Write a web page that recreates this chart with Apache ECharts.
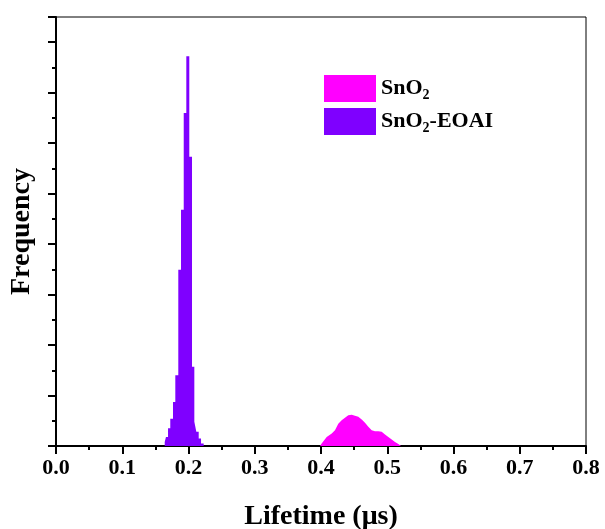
<!DOCTYPE html>
<html>
<head>
<meta charset="utf-8">
<script src="https://cdn.jsdelivr.net/npm/echarts@6/dist/echarts.min.js"></script>
<style>html,body{margin:0;padding:0;background:#fff}#c{width:605px;height:529px}</style>
</head>
<body>
<div id="c"></div>
<script>
// Histogram bin edges (μs) and counts for SnO2-EOAI
const purpleEdges = [0.1641,0.1660,0.1691,0.1725,0.1766,0.1801,0.1846,0.1887,0.1928,0.1967,0.2012,0.2053,0.2088,0.2118,0.2154,0.2189,0.2229];
const purpleCounts = [8,18,35,54,87,140,349,468,660,772,573,157,48,28,15,5];
// SnO2 distribution
const pinkX = [0.3985,0.4010,0.4086,0.4162,0.4211,0.4261,0.4312,0.4362,0.4412,0.4463,0.4513,0.4563,0.4619,0.4664,0.4714,0.4765,0.4815,0.4865,0.4916,0.4966,0.5016,0.5067,0.5117,0.5167,0.5208];
const pinkY = [0,5,18,25,31,44,51,56,61,62,60,58,52,46,38,31,29,29,28,23,18,13,8,4,0];
const xTicks = ['0.0','0.1','0.2','0.3','0.4','0.5','0.6','0.7','0.8'];
const seriesNames = ['SnO2','SnO2-EOAI'];

const purpleData = purpleCounts.map((c,i)=>[purpleEdges[i],c]);
purpleData.push([purpleEdges[purpleEdges.length-1],0]);
const pinkData = pinkX.map((x,i)=>[x,pinkY[i]]);

const FONT = "'Liberation Serif','Times New Roman',serif";
const chart = echarts.init(document.getElementById('c'), null, {renderer:'canvas'});
chart.setOption({
  animation:false,
  backgroundColor:'#fff',
  grid:{left:56,right:19,top:17,bottom:83,show:true,borderColor:'#000',borderWidth:1,containLabel:false,outerBoundsMode:'none'},
  legend:{
    orient:'vertical', left:324, top:75, padding:0, itemWidth:52, itemHeight:27, itemGap:6,
    icon:'rect', data:seriesNames,
    formatter:function(n){ return n==='SnO2' ? '{b|SnO}{s|2}' : '{b|SnO}{s|2}{b|-EOAI}'; },
    textStyle:{fontFamily:FONT,fontWeight:'bold',color:'#000',padding:[0,0,0,0],
      rich:{b:{fontFamily:FONT,fontWeight:'bold',fontSize:22,color:'#000',lineHeight:27},
            s:{fontFamily:FONT,fontWeight:'bold',fontSize:14,color:'#000',verticalAlign:'bottom',lineHeight:27,padding:[10,0,0,0]}}}
  },
  xAxis:{
    type:'value', min:0, max:0.8, interval:0.1,
    name:'Lifetime (μs)', nameLocation:'middle', nameGap:57,
    nameTextStyle:{fontFamily:FONT,fontWeight:'bold',fontSize:28,color:'#000'},
    axisLine:{show:true,onZero:false,lineStyle:{color:'#000',width:2}},
    axisTick:{show:true,inside:false,length:8,lineStyle:{color:'#000',width:2}},
    minorTick:{show:true,splitNumber:2,length:4,lineStyle:{color:'#000',width:2}},
    splitLine:{show:false},
    axisLabel:{margin:11,fontFamily:FONT,fontWeight:'bold',fontSize:22,color:'#000',
      formatter:function(v){ const i=Math.round(v*10); return xTicks[i]!==undefined?xTicks[i]:''; }}
  },
  yAxis:{
    type:'value', min:0, max:850, interval:100,
    name:'Frequency', nameLocation:'middle', nameGap:20,
    nameTextStyle:{fontFamily:FONT,fontWeight:'bold',fontSize:28,color:'#000'},
    axisLine:{show:true,onZero:false,lineStyle:{color:'#000',width:2}},
    axisTick:{show:true,inside:false,length:8,lineStyle:{color:'#000',width:2}},
    minorTick:{show:true,splitNumber:2,length:4,lineStyle:{color:'#000',width:2}},
    splitLine:{show:false},
    axisLabel:{show:false}
  },
  series:[
    {name:'SnO2', type:'line', data:pinkData, symbol:'none', smooth:false,
     itemStyle:{color:'#FF00FF'}, lineStyle:{width:0,color:'#FF00FF'}, areaStyle:{color:'#FF00FF',opacity:1}},
    {name:'SnO2-EOAI', type:'line', data:purpleData, step:'end', symbol:'none',
     itemStyle:{color:'#7F00FF'}, lineStyle:{width:0,color:'#7F00FF'}, areaStyle:{color:'#7F00FF',opacity:1}}
  ]
});
</script>
</body>
</html>
